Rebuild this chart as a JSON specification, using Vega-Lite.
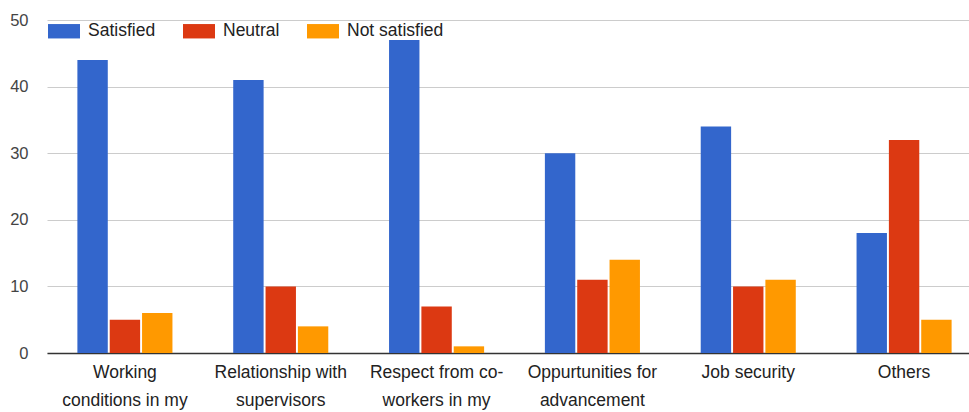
{
  "$schema": "https://vega.github.io/schema/vega-lite/v6.json",
  "autosize": {"type": "none"},
  "width": 935,
  "height": 333,
  "padding": {"left": 47, "top": 20, "right": 0, "bottom": 59},
  "background": "white",
  "data": {
    "values": [
      {"aspect": "Working conditions in my", "status": "Satisfied", "count": 44},
      {"aspect": "Working conditions in my", "status": "Neutral", "count": 5},
      {"aspect": "Working conditions in my", "status": "Not satisfied", "count": 6},
      {"aspect": "Relationship with supervisors", "status": "Satisfied", "count": 41},
      {"aspect": "Relationship with supervisors", "status": "Neutral", "count": 10},
      {"aspect": "Relationship with supervisors", "status": "Not satisfied", "count": 4},
      {"aspect": "Respect from co-workers in my", "status": "Satisfied", "count": 47},
      {"aspect": "Respect from co-workers in my", "status": "Neutral", "count": 7},
      {"aspect": "Respect from co-workers in my", "status": "Not satisfied", "count": 1},
      {"aspect": "Oppurtunities for advancement", "status": "Satisfied", "count": 30},
      {"aspect": "Oppurtunities for advancement", "status": "Neutral", "count": 11},
      {"aspect": "Oppurtunities for advancement", "status": "Not satisfied", "count": 14},
      {"aspect": "Job security", "status": "Satisfied", "count": 34},
      {"aspect": "Job security", "status": "Neutral", "count": 10},
      {"aspect": "Job security", "status": "Not satisfied", "count": 11},
      {"aspect": "Others", "status": "Satisfied", "count": 18},
      {"aspect": "Others", "status": "Neutral", "count": 32},
      {"aspect": "Others", "status": "Not satisfied", "count": 5}
    ]
  },
  "mark": {"type": "bar"},
  "encoding": {
    "x": {
      "field": "aspect",
      "type": "nominal",
      "sort": null,
      "title": null,
      "scale": {"paddingInner": 0.39, "paddingOuter": 0.195},
      "axis": {
        "labelAngle": 0,
        "labelExpr": "datum.value == 'Working conditions in my' ? ['Working', 'conditions in my'] : datum.value == 'Relationship with supervisors' ? ['Relationship with', 'supervisors'] : datum.value == 'Respect from co-workers in my' ? ['Respect from co-', 'workers in my'] : datum.value == 'Oppurtunities for advancement' ? ['Oppurtunities for', 'advancement'] : datum.value",
        "labelFont": "Liberation Sans",
        "labelFontSize": 17.5,
        "labelColor": "#222222",
        "labelLineHeight": 28,
        "labelPadding": 10,
        "labelBaseline": "top",
        "ticks": false,
        "domainColor": "#333333",
        "domainWidth": 1.5,
        "grid": false
      }
    },
    "xOffset": {
      "field": "status",
      "type": "nominal",
      "sort": ["Satisfied", "Neutral", "Not satisfied"],
      "scale": {"paddingInner": 0.06}
    },
    "y": {
      "field": "count",
      "type": "quantitative",
      "title": null,
      "scale": {"domain": [0, 50], "nice": false},
      "axis": {
        "values": [0, 10, 20, 30, 40, 50],
        "labelFont": "Liberation Sans",
        "labelFontSize": 16.5,
        "labelColor": "#444444",
        "labelPadding": 19,
        "ticks": false,
        "domain": false,
        "gridColor": "#cccccc",
        "gridWidth": 1
      }
    },
    "color": {
      "field": "status",
      "type": "nominal",
      "sort": ["Satisfied", "Neutral", "Not satisfied"],
      "scale": {
        "domain": ["Satisfied", "Neutral", "Not satisfied"],
        "range": ["#3366cc", "#dc3912", "#ff9900"]
      },
      "legend": {
        "title": null,
        "orient": "none",
        "direction": "horizontal",
        "legendX": 1,
        "legendY": -5,
        "symbolType": "M-1,-0.45L1,-0.45L1,0.45L-1,0.45Z",
        "symbolSize": 1024,
        "symbolStrokeWidth": 0,
        "symbolOpacity": 1,
        "labelFont": "Liberation Sans",
        "labelFontSize": 17.5,
        "labelColor": "#222222",
        "labelOffset": 8,
        "columnPadding": 27
      }
    }
  },
  "config": {
    "view": {"stroke": null}
  }
}
